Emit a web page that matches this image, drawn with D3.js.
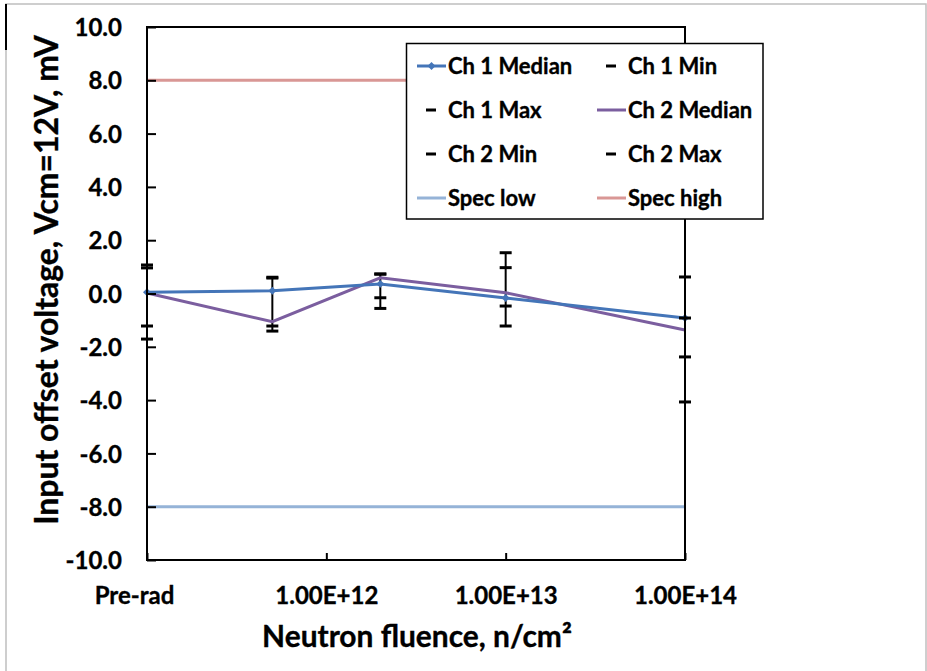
<!DOCTYPE html>
<html><head><meta charset="utf-8">
<script src="https://cdn.jsdelivr.net/npm/d3@7"></script>
<style>
html,body{margin:0;padding:0;background:#fff;}
svg{display:block;font-family:Lato,"Open Sans",sans-serif;font-weight:bold;}
svg text{stroke:#000;stroke-width:0.35px;}
</style></head>
<body>
<svg id="chart" width="927" height="671"></svg>
<script>
// ---- data ----
const fluence = [1e11, 5e11, 2e12, 1e13, 1e14]; // 1e11 position = "Pre-rad"
const ch1Median = [0.05, 0.10, 0.36, -0.17, -0.92];
const ch2Median = [0.02, -1.06, 0.59, 0.03, -1.37];
const ch1Min = [-1.22, -1.22, -0.16, -0.47, -2.38];
const ch1Max = [0.96, 0.61, 0.73, 0.97, 0.62];
const ch2Min = [-1.71, -1.41, -0.56, -1.22, -4.07];
const ch2Max = [1.07, 0.58, 0.73, 1.53, -0.92];
const specLow = [-8, -8, -8, -8, -8];
const specHigh = [8, 8, 8, 8, 8];
const xTickValues = [1e11, 1e12, 1e13, 1e14];
const xTickLabels = ["Pre-rad", "1.00E+12", "1.00E+13", "1.00E+14"];
const yTickValues = [-10, -8, -6, -4, -2, 0, 2, 4, 6, 8, 10];
const legendItems = [
  {name: "Ch 1 Median", type: "median1"}, {name: "Ch 1 Min", type: "dash"},
  {name: "Ch 1 Max", type: "dash"}, {name: "Ch 2 Median", type: "median2"},
  {name: "Ch 2 Min", type: "dash"}, {name: "Ch 2 Max", type: "dash"},
  {name: "Spec low", type: "low"}, {name: "Spec high", type: "high"}
];

const C1 = "#4475B8", C2 = "#7B5E9F", CLOW = "#95B3D7", CHIGH = "#D99795";

const svg = d3.select("#chart");
const L = 147, R = 685, T = 27, B = 560;
const x = d3.scaleLog().domain([1e11, 1e14]).range([L, R]);
const y = d3.scaleLinear().domain([-10, 10]).range([B, T]);

// outer frame
svg.append("rect").attr("x", 6).attr("y", 4).attr("width", 920).attr("height", 680)
  .attr("fill", "none").attr("stroke", "#BFBFBF").attr("stroke-width", 1.5);
svg.append("line").attr("x1", 6).attr("x2", 6).attr("y1", 4).attr("y2", 50)
  .attr("stroke", "#000").attr("stroke-width", 2);

const idx = d3.range(fluence.length);
const lineGen = vals => d3.line().x(i => x(fluence[i])).y(i => y(vals[i]))(idx);

// spec lines
svg.append("path").attr("d", lineGen(specLow)).attr("fill", "none").attr("stroke", CLOW).attr("stroke-width", 3);
svg.append("path").attr("d", lineGen(specHigh)).attr("fill", "none").attr("stroke", CHIGH).attr("stroke-width", 3);

// high-low lines
const hiLo = idx.map(i => ({
  i, hi: Math.max(ch1Min[i], ch1Max[i], ch2Min[i], ch2Max[i]),
  lo: Math.min(ch1Min[i], ch1Max[i], ch2Min[i], ch2Max[i])
}));
svg.append("g").selectAll("line").data(hiLo).join("line")
  .attr("x1", d => x(fluence[d.i])).attr("x2", d => x(fluence[d.i]))
  .attr("y1", d => y(d.hi)).attr("y2", d => y(d.lo))
  .attr("stroke", "#000").attr("stroke-width", 2);

// median lines
svg.append("path").attr("d", lineGen(ch2Median)).attr("fill", "none").attr("stroke", C2).attr("stroke-width", 3);
svg.append("path").attr("d", lineGen(ch1Median)).attr("fill", "none").attr("stroke", C1).attr("stroke-width", 3);
svg.append("g").selectAll("path").data(idx).join("path")
  .attr("d", d3.symbol(d3.symbolDiamond2, 40)())
  .attr("transform", i => `translate(${x(fluence[i])},${y(ch1Median[i])})`)
  .attr("fill", C1);

// dash markers for min / max series
[ch1Min, ch1Max, ch2Min, ch2Max].forEach(vals => {
  svg.append("g").selectAll("line").data(idx).join("line")
    .attr("x1", i => x(fluence[i]) - 6).attr("x2", i => x(fluence[i]) + 6)
    .attr("y1", i => y(vals[i])).attr("y2", i => y(vals[i]))
    .attr("stroke", "#000").attr("stroke-width", 3);
});

// plot border
svg.append("rect").attr("x", L).attr("y", T).attr("width", R - L).attr("height", B - T)
  .attr("fill", "none").attr("stroke", "#000").attr("stroke-width", 2);

// y axis
const yAxis = d3.axisLeft(y).tickValues(yTickValues).tickSize(-9).tickPadding(25)
  .tickFormat(v => v.toFixed(1));
const gy = svg.append("g").attr("transform", `translate(${L},0)`).call(yAxis);
gy.select(".domain").remove();
gy.selectAll(".tick line").attr("stroke", "#000").attr("stroke-width", 2);
gy.selectAll(".tick text").attr("font-family", "Lato").attr("font-weight", "bold")
  .attr("font-size", 24).attr("fill", "#000").attr("dy", "0.36em");

// x axis
const xAxis = d3.axisBottom(x).tickValues(xTickValues).tickSize(-7).tickPadding(27)
  .tickFormat((v, i) => xTickLabels[i]);
const gx = svg.append("g").attr("transform", `translate(0,${B})`).call(xAxis);
gx.select(".domain").remove();
gx.selectAll(".tick line").attr("stroke", "#000").attr("stroke-width", 2);
gx.selectAll(".tick text").attr("font-family", "Lato").attr("font-weight", "bold")
  .attr("font-size", 24).attr("fill", "#000").attr("dy", "0.71em");
gx.selectAll(".tick").filter((d, i) => i === 0).select("text").attr("dx", -13);

// axis titles
function fit(sel, target) {
  const w = sel.node().getComputedTextLength();
  const fs = parseFloat(sel.attr("font-size"));
  sel.attr("font-size", fs * target / w);
}
const xt = svg.append("text").attr("x", 417).attr("y", 647).attr("text-anchor", "middle")
  .attr("font-size", 28).attr("fill", "#000").text("Neutron fluence, n/cm²");
fit(xt, 310);
const yt = svg.append("text").attr("transform", "translate(58,280) rotate(-90)")
  .attr("text-anchor", "middle").attr("font-size", 28).attr("fill", "#000")
  .text("Input offset voltage, Vcm=12V, mV");
fit(yt, 490);

// legend
const lg = svg.append("g");
lg.append("rect").attr("x", 406.5).attr("y", 43.5).attr("width", 356.5).attr("height", 175.5)
  .attr("fill", "#fff").attr("stroke", "#000").attr("stroke-width", 1.5);
const colX = [417, 597], rowY = [66, 110, 154, 198];
legendItems.forEach((it, k) => {
  const cx = colX[k % 2], cy = rowY[Math.floor(k / 2)];
  const g = lg.append("g").attr("transform", `translate(${cx},${cy})`);
  if (it.type === "dash") {
    g.append("line").attr("x1", 9).attr("x2", 19).attr("y1", 0).attr("y2", 0)
      .attr("stroke", "#000").attr("stroke-width", 3);
  } else {
    const col = {median1: C1, median2: C2, low: CLOW, high: CHIGH}[it.type];
    g.append("line").attr("x1", 0).attr("x2", 29).attr("y1", 0).attr("y2", 0)
      .attr("stroke", col).attr("stroke-width", 3);
    if (it.type === "median1") {
      g.append("path").attr("d", d3.symbol(d3.symbolDiamond2, 40)())
        .attr("transform", "translate(14.5,0)").attr("fill", C1);
    }
  }
  g.append("text").attr("x", 31).attr("y", 7.5).attr("font-size", 22).attr("fill", "#000").text(it.name);
});
</script>
</body></html>
